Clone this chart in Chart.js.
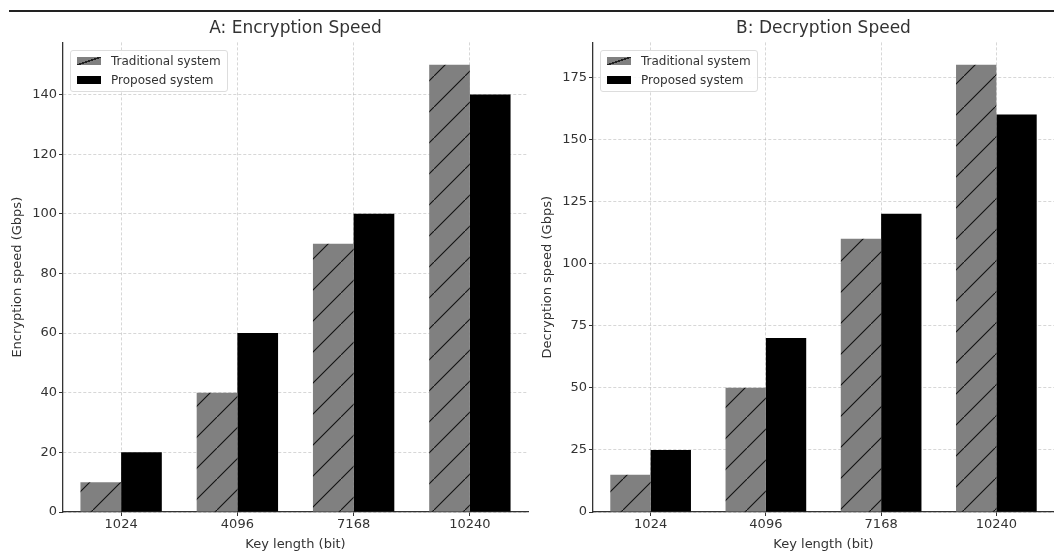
<!DOCTYPE html>
<html>
<head>
<meta charset="utf-8">
<script src="https://cdn.jsdelivr.net/npm/chart.js@4.4.1/dist/chart.umd.min.js"></script>
<style>
  body { margin: 0; background: #fff; width: 1054px; height: 554px; overflow: hidden; position: relative; font-family: "DejaVu Sans", sans-serif; }
  .topline { position: absolute; left: 9px; right: 0; top: 10px; height: 2px; background: #222; }
  canvas { position: absolute; top: 14px; }
  #chartA { left: 0; }
  #chartB { left: 530px; }
  .legend { position: absolute; top: 50px; width: 156px; height: 40px; border: 1px solid #ddd; border-radius: 3px; background: rgba(255,255,255,0.85); font-size: 12px; color: #333; z-index: 5; }
  .legend .row { position: absolute; left: 6px; height: 14px; line-height: 14px; white-space: nowrap; }
  .legend .sw { display: inline-block; width: 24px; height: 8px; vertical-align: middle; margin-right: 10px; position: relative; top: -1px; }
  .sw.trad { background: linear-gradient(to bottom right, #808080 44%, #222 44%, #222 56%, #808080 56%); }
  .sw.prop { background: #000; }
</style>
</head>
<body>
<div class="topline"></div>
<canvas id="chartA" width="530" height="540"></canvas>
<canvas id="chartB" width="524" height="540"></canvas>

<div class="legend" style="left:70px">
  <div class="row" style="top:3px"><span class="sw trad"></span>Traditional system</div>
  <div class="row" style="top:22px"><span class="sw prop"></span>Proposed system</div>
</div>
<div class="legend" style="left:600px">
  <div class="row" style="top:3px"><span class="sw trad"></span>Traditional system</div>
  <div class="row" style="top:22px"><span class="sw prop"></span>Proposed system</div>
</div>

<script>
const keyLengths = ["1024", "4096", "7168", "10240"];
const encTraditional = [10, 40, 90, 150];
const encProposed = [20, 60, 100, 140];
const decTraditional = [15, 50, 110, 180];
const decProposed = [25, 70, 120, 160];

Chart.defaults.font.family = '"DejaVu Sans", sans-serif';
Chart.defaults.color = "#333";

// gray bars with "/" hatch
function hatchPattern() {
  const c = document.createElement("canvas");
  c.width = 31;
  c.height = 31;
  const g = c.getContext("2d");
  g.fillStyle = "#808080";
  g.fillRect(0, 0, 31, 31);
  g.strokeStyle = "#111";
  g.lineWidth = 1.1;
  g.beginPath();
  g.moveTo(-2, 33);
  g.lineTo(33, -2);
  g.stroke();
  return g.createPattern(c, "repeat");
}

const gridStyle = {
  color: "rgba(176,176,176,0.5)",
  tickColor: "#333",
  tickBorderDash: [],
  tickLength: 4,
  lineWidth: 1,
};
// in v4 border.dash is the dash of the grid lines
const borderStyle = { display: true, color: "#333", width: 1.3, dash: [3, 2] };

function makeChart(id, title, yLabel, trad, prop, yMax, step, padRight) {
  const ctx = document.getElementById(id);
  return new Chart(ctx, {
    type: "bar",
    data: {
      labels: keyLengths,
      datasets: [
        {
          label: "Traditional system",
          data: trad,
          backgroundColor: hatchPattern(),
          categoryPercentage: 0.7,
          barPercentage: 1.0,
        },
        {
          label: "Proposed system",
          data: prop,
          backgroundColor: "#000",
          categoryPercentage: 0.7,
          barPercentage: 1.0,
        },
      ],
    },
    options: {
      responsive: false,
      animation: false,
      devicePixelRatio: 1,
      layout: { padding: { left: 0, right: padRight, top: 0, bottom: 0 } },
      plugins: {
        legend: { display: false },
        tooltip: { enabled: false },
        title: {
          display: true,
          text: title,
          fullSize: false,
          color: "#333",
          font: { size: 17, weight: "normal" },
          padding: { top: 4, bottom: 4 },
        },
      },
      scales: {
        x: {
          z: 1,
          offset: true,
          grid: Object.assign({ offset: false }, gridStyle),
          border: borderStyle,
          ticks: { font: { size: 13 }, color: "#333", padding: 1, maxRotation: 0 },
          title: {
            display: true,
            text: "Key length (bit)",
            font: { size: 13 },
            color: "#333",
            padding: { top: 0, bottom: 2 },
          },
          afterFit: function (scale) {
            scale.height = 42;
          },
        },
        y: {
          z: 1,
          min: 0,
          max: yMax,
          grid: gridStyle,
          border: borderStyle,
          ticks: { stepSize: step, includeBounds: false, font: { size: 13 }, color: "#333", padding: 2 },
          title: {
            display: true,
            text: yLabel,
            font: { size: 13 },
            color: "#333",
            padding: { top: 10, bottom: 0 },
          },
          afterFit: function (scale) {
            scale.width = 63;
          },
        },
      },
    },
  });
}

makeChart("chartA", "A: Encryption Speed", "Encryption speed (Gbps)", encTraditional, encProposed, 157.5, 20, 2);
makeChart("chartB", "B: Decryption Speed", "Decryption speed (Gbps)", decTraditional, decProposed, 189, 25, 0);
</script>
</body>
</html>
